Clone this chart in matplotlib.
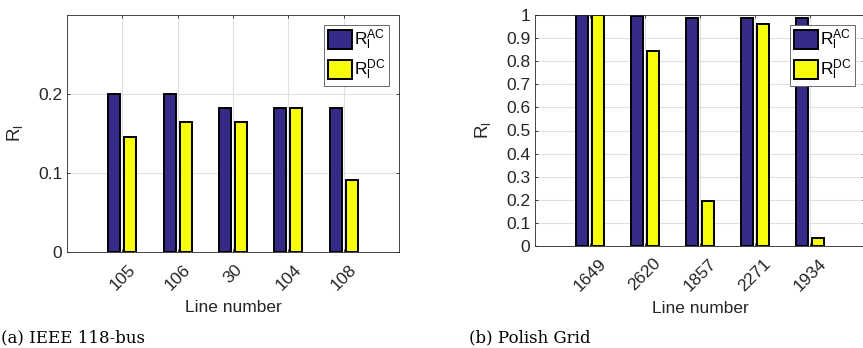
import numpy as np
import matplotlib.pyplot as plt
from matplotlib.patches import Patch

plt.rcParams['font.family'] = ['Liberation Sans', 'DejaVu Sans']
plt.rcParams['mathtext.default'] = 'regular'

# IEEE 118-bus
lines_a = ['105', '106', '30', '104', '108']
ac_a = [0.2, 0.2, 0.182, 0.182, 0.182]
dc_a = [0.146, 0.164, 0.164, 0.182, 0.091]
yticks_a = [0, 0.1, 0.2]
yticklabels_a = ['0', '0.1', '0.2']

# Polish grid
lines_b = ['1649', '2620', '1857', '2271', '1934']
ac_b = [1.0, 0.997, 0.987, 0.987, 0.985]
dc_b = [1.0, 0.846, 0.195, 0.961, 0.033]
yticks_b = [0, 0.1, 0.2, 0.3, 0.4, 0.5, 0.6, 0.7, 0.8, 0.9, 1.0]
yticklabels_b = ['0', '0.1', '0.2', '0.3', '0.4', '0.5', '0.6', '0.7', '0.8', '0.9', '1']

AC_COLOR = '#352a87'
DC_COLOR = '#f9fb0e'
AX_COLOR = '#262626'
FS = 12.5

W, H = 863, 348
fig = plt.figure(figsize=(W / 100, H / 100), dpi=100)


def px_axes(left, top, right, bottom):
    return fig.add_axes([left / W, 1 - bottom / H, (right - left) / W, (bottom - top) / H])


def draw_panel(ax, names, ac, dc, ylim, yticks, yticklabels):
    x = np.arange(1, len(names) + 1)
    width = 0.22
    off = 0.145
    ax.bar(x - off, ac, width, color=AC_COLOR, edgecolor='black', linewidth=1.4)
    ax.bar(x + off, dc, width, color=DC_COLOR, edgecolor='black', linewidth=1.4)
    ax.set_xlim(0, 6)
    ax.set_ylim(*ylim)
    ax.set_xticks(x)
    ax.set_xticklabels(names, rotation=45, ha='center', va='top')
    ax.set_yticks(yticks)
    ax.set_yticklabels(yticklabels)
    ax.set_axisbelow(True)
    ax.grid(True, color='#e0e0e0', linewidth=0.8)
    ax.tick_params(direction='in', length=2.5, width=0.6, colors=AX_COLOR,
                   labelsize=FS, top=True, right=True, pad=3.5)
    ax.tick_params(axis='x', pad=7)
    for s in ax.spines.values():
        s.set_color(AX_COLOR)
        s.set_linewidth(0.6)
    ax.set_xlabel('Line number', fontsize=FS, color=AX_COLOR, labelpad=5)
    ax.set_ylabel(r'$R_l$', fontsize=FS + 1, color=AX_COLOR)
    ax.yaxis.set_label_coords(-0.127, 0.5)
    handles = [Patch(facecolor=AC_COLOR, edgecolor='black', linewidth=1.4),
               Patch(facecolor=DC_COLOR, edgecolor='black', linewidth=1.4)]
    leg = ax.legend(handles, [r'$R_l^{AC}$', r'$R_l^{DC}$'], loc='upper right',
                    fontsize=FS, fancybox=False, framealpha=1, edgecolor='#555555',
                    handlelength=1.38, handleheight=1.3, handletextpad=0.15,
                    borderpad=0.2, labelspacing=0.3, borderaxespad=0.55)
    leg.get_frame().set_linewidth(0.6)


ax1 = px_axes(67, 15, 399, 252)
draw_panel(ax1, lines_a, ac_a, dc_a, (0, 0.3), yticks_a, yticklabels_a)

ax2 = px_axes(535, 15, 865, 246)
draw_panel(ax2, lines_b, ac_b, dc_b, (0, 1), yticks_b, yticklabels_b)

fig.text(1 / W, 1 - 342 / H, '(a) IEEE 118-bus', family='DejaVu Serif', fontsize=12,
         va='baseline', ha='left')
fig.text(469 / W, 1 - 342 / H, '(b) Polish Grid', family='DejaVu Serif', fontsize=12,
         va='baseline', ha='left')

fig.savefig('out.png', dpi=100)
